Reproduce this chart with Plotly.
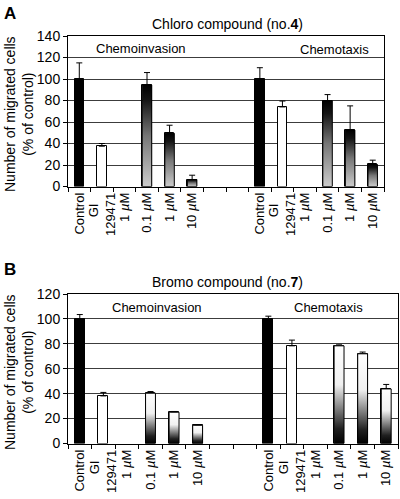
import plotly.graph_objects as go

# ---------------- data ----------------
categories = ["Control", "GI&nbsp;&nbsp;&nbsp;<br>129471", "1 <i>µ</i>M", "0.1 <i>µ</i>M", "1 <i>µ</i>M", "10 <i>µ</i>M", "", "",
              "Control", "GI&nbsp;&nbsp;&nbsp;<br>129471", "1 <i>µ</i>M", "0.1 <i>µ</i>M", "1 <i>µ</i>M", "10 <i>µ</i>M"]
bar_kinds = ["control", "gi", None, "dose", "dose", "dose", None, None,
             "control", "gi", None, "dose", "dose", "dose"]

chloro_values = [100, 37.5, None, 94.5, 49.5, 6.5, None, None, 100, 74, None, 80, 52.5, 20.5]
chloro_errors = [15, 2.5, None, 11.5, 7.5, 4, None, None, 10.5, 5.5, None, 5.5, 22.5, 4]

bromo_values = [100, 38.2, None, 40.4, 25.1, 14.6, None, None, 100, 78.4, None, 78.4, 72, 43.8]
bromo_errors = [3.5, 2.8, None, 1.3, 0.6, 0.5, None, None, 2.2, 4.6, None, 0.8, 1.4, 3.6]

group_labels = ["Chemoinvasion", "Chemotaxis"]
panel_titles = ["Chloro compound (no.<b>4</b>)", "Bromo compound (no.<b>7</b>)"]
panel_letters = ["A", "B"]
y_title = "Number of migrated cells<br>(% of control)"

# ---------------- style ----------------
W, H = 400, 499
FONT = "Liberation Sans, Arial, sans-serif"
BAR_W = 0.42
grad_A = [[0, "#cccccc"], [0.5, "#767676"], [0.85, "#151515"], [1, "#000000"]]
grad_B = [[0, "#000000"], [0.15, "#202020"], [0.6, "#f0f0f0"], [1, "#ffffff"]]
kind_color = {"control": "#000000", "gi": "#ffffff", "dose": "rgba(0,0,0,0)"}

def px(x):
    return x / W

def py(y):
    return 1 - y / H

fig = go.Figure()

panels = [
    (chloro_values, chloro_errors, "x", "y", grad_A),
    (bromo_values, bromo_errors, "x2", "y2", grad_B),
]

for vals, errs, xa, ya, grad in panels:
    idx = [i for i, v in enumerate(vals) if v is not None]
    fig.add_trace(go.Bar(
        x=idx, y=[vals[i] for i in idx], width=BAR_W,
        marker=dict(color=[kind_color[bar_kinds[i]] for i in idx],
                    line=dict(color="black", width=1)),
        error_y=dict(type="data", symmetric=False,
                     array=[errs[i] for i in idx], arrayminus=[0] * len(idx),
                     color="black", thickness=1, width=3),
        xaxis=xa, yaxis=ya, showlegend=False, hoverinfo="skip",
    ))
    for i in idx:
        if bar_kinds[i] != "dose":
            continue
        x0, x1 = i - BAR_W / 2, i + BAR_W / 2
        fig.add_trace(go.Scatter(
            x=[x0, x1, x1, x0, x0], y=[0, 0, vals[i], vals[i], 0],
            mode="lines", fill="toself",
            fillgradient=dict(type="vertical", colorscale=grad),
            line=dict(color="black", width=1),
            xaxis=xa, yaxis=ya, showlegend=False, hoverinfo="skip",
        ))

common_x = dict(
    range=[-0.5, 13.5], tickmode="array", tickvals=list(range(len(categories))),
    ticktext=categories, tickangle=-90, ticks="", showline=True, mirror=True,
    linecolor="black", linewidth=1, showgrid=False, zeroline=False,
    tickfont=dict(size=13, color="black", family=FONT), automargin=False,
    minor=dict(tickmode="array", tickvals=[k - 0.5 for k in range(len(categories) + 1)],
               ticks="outside", ticklen=4, tickcolor="black", tickwidth=1, showgrid=False),
)
common_y = dict(
    dtick=20, ticks="outside", ticklen=4, tickcolor="black", showline=True, mirror=True,
    linecolor="black", linewidth=1, showgrid=True, gridcolor="#3c3c3c", gridwidth=1,
    zeroline=False, tickfont=dict(size=14, color="black", family=FONT), automargin=False,
)

fig.update_layout(
    width=W, height=H, margin=dict(l=0, r=0, t=0, b=0),
    paper_bgcolor="white", plot_bgcolor="white",
    font=dict(family=FONT, color="black"),
    bargap=0,
    xaxis=dict(common_x, domain=[px(68), px(384)], anchor="y"),
    yaxis=dict(common_y, domain=[py(186.5), py(36)], range=[0, 140], anchor="x"),
    xaxis2=dict(common_x, domain=[px(68), px(398)], anchor="y2"),
    yaxis2=dict(common_y, domain=[py(443.5), py(294)], range=[0, 120], anchor="x2"),
)

ann = []
def add_text(text, x, y, size, angle=0):
    ann.append(dict(text=text, x=px(x), y=py(y), xref="paper", yref="paper",
                    xanchor="center", yanchor="middle", showarrow=False,
                    textangle=angle, font=dict(size=size, color="black", family=FONT)))

add_text("<b>" + panel_letters[0] + "</b>", 10, 13, 17)
add_text("<b>" + panel_letters[1] + "</b>", 10, 269, 17)
add_text(panel_titles[0], 227, 24, 14)
add_text(panel_titles[1], 228, 282, 14)
add_text(group_labels[0], 141, 49, 13)
add_text(group_labels[1], 334, 50, 13)
add_text(group_labels[0], 157, 307, 13)
add_text(group_labels[1], 328, 307, 13)
add_text(y_title, 19, 114, 14, -90)
add_text(y_title, 19, 372, 14, -90)
fig.update_layout(annotations=ann)

fig.write_html("out.html", config={"displayModeBar": False},
               post_script="document.body.style.margin='0';document.body.style.overflow='hidden';")
